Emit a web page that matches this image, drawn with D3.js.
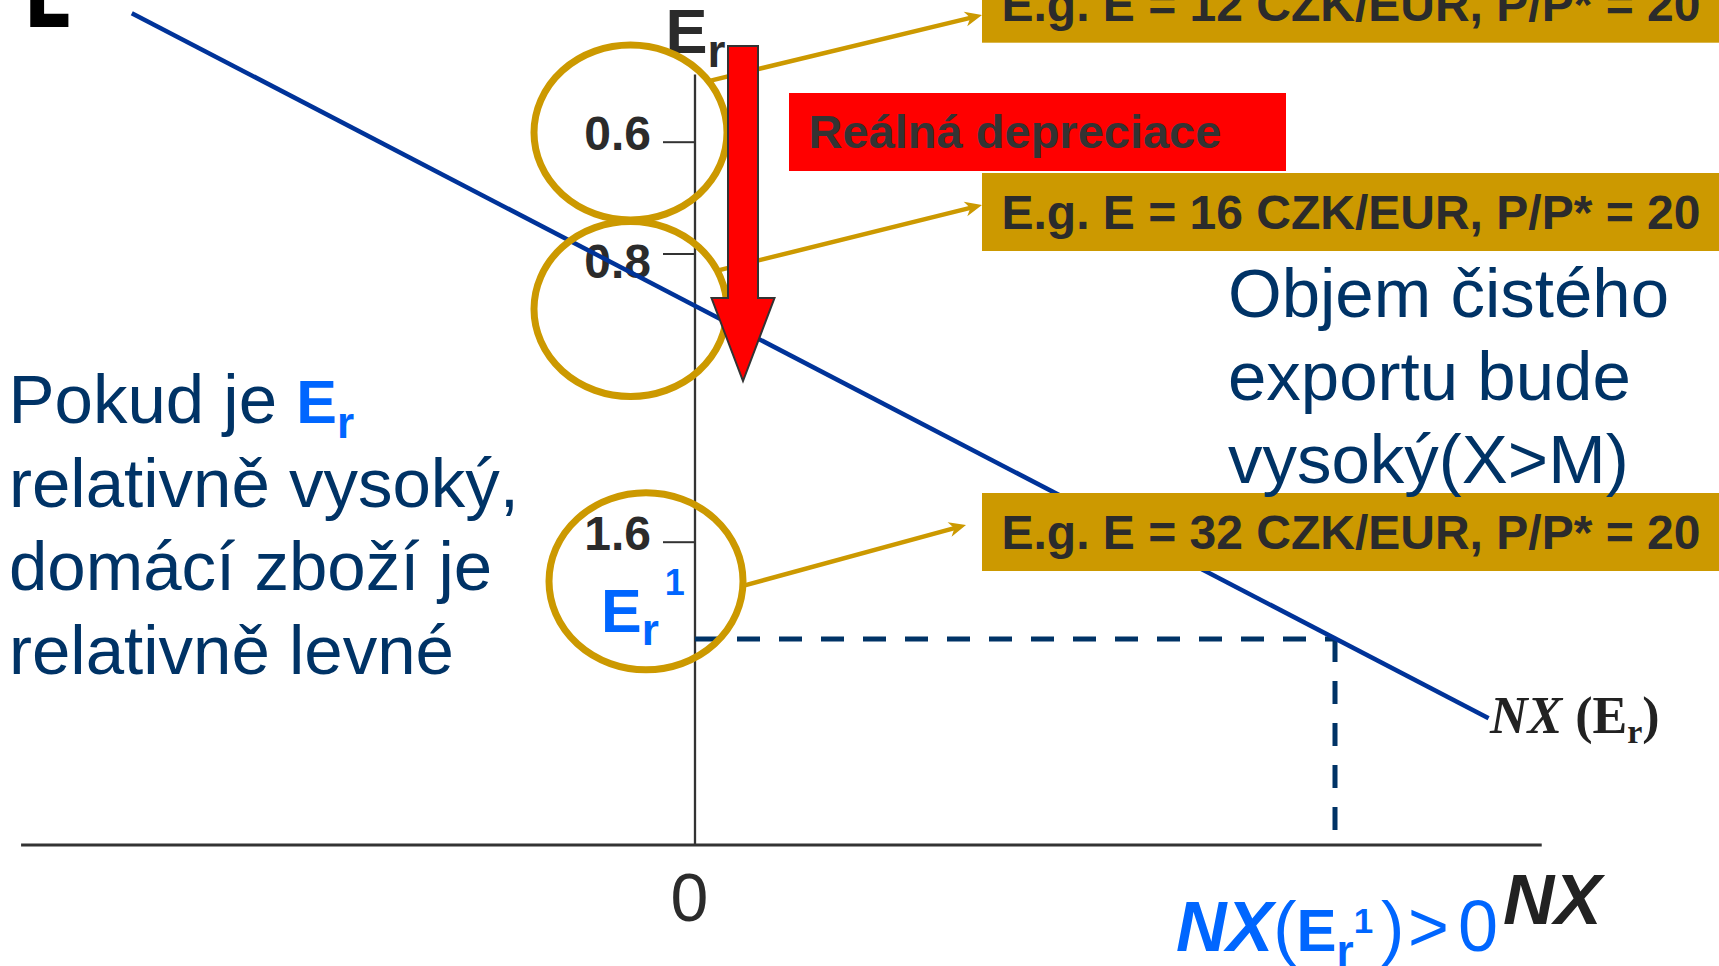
<!DOCTYPE html>
<html>
<head>
<meta charset="utf-8">
<script src="https://cdn.jsdelivr.net/npm/d3@7"></script>
<style>
  html, body { margin: 0; padding: 0; background: #fff; overflow: hidden; }
  svg { display: block; }
</style>
</head>
<body>
<svg id="chart" width="1719" height="966"></svg>
<script>
// ---- data ---------------------------------------------------------------
// Example nominal rates (CZK/EUR) and relative price levels P/P*
const nominalRates = [12, 16, 32];
const priceRatios = [20, 20, 20];
// Real exchange rate ticks on the vertical axis, E_r = E / (P/P*)
const erTicks = [0.6, 0.8, 1.6];
// Net-export schedule NX(E_r): end points (NX, E_r)
const curveNX = [-0.88, 1.24];
const curveEr = [0.37, 2.09];
// Highlighted point: E_r^1 and the net exports it yields, NX(E_r^1) > 0
const er1 = 1.87;
const nx1 = 1;
// Extent of the drawn axes
const nxAxisExtent = [-1.053, 1.323];
const erAxisTop = 0.48;

// ---- layout -------------------------------------------------------------
const W = 1719, H = 966;
const plotBottom = 845;
const navy = "#003366", lineBlue = "#003399", brightBlue = "#0066ff";
const gold = "#cc9900", red = "#ff0000", ink = "#2b2b2b";
const sans = "'Liberation Sans', Arial, sans-serif";
const serif = "'Liberation Serif', 'Times New Roman', serif";

const x = d3.scaleLinear().domain([0, 1]).range([695, 1335]);
// The E_r axis is schematic: piecewise-linear between the labelled ticks
const y = d3.scaleLinear().domain(erTicks).range([141.7, 253.5, 541.7]);

const svg = d3.select("#chart");
svg.append("rect").attr("width", W).attr("height", H).attr("fill", "#fff");

// Cut-off heading letter at the top edge
svg.append("text")
  .attr("transform", "translate(23.4,26.7) scale(0.8,1)")
  .attr("font-family", "'DejaVu Sans', sans-serif")
  .attr("font-weight", "bold")
  .attr("font-size", 92)
  .attr("fill", "#000")
  .text("E");

// ---- axes ---------------------------------------------------------------
svg.append("line")
  .attr("x1", x(nxAxisExtent[0])).attr("x2", x(nxAxisExtent[1]))
  .attr("y1", plotBottom).attr("y2", plotBottom)
  .attr("stroke", "#333").attr("stroke-width", 3);

svg.append("line")
  .attr("x1", x(0)).attr("x2", x(0))
  .attr("y1", y(erAxisTop)).attr("y2", plotBottom)
  .attr("stroke", "#333").attr("stroke-width", 2.3);

const labelDy = { "0.6": "0.17em", "0.8": "0.5em", "1.6": "0.17em" };
const yAxis = svg.append("g")
  .attr("transform", `translate(${x(0)},0)`)
  .call(d3.axisLeft(y).tickValues(erTicks).tickSize(32).tickPadding(12)
    .tickFormat(d3.format(".1f")));
yAxis.select(".domain").remove();
yAxis.selectAll(".tick line").attr("stroke", "#333").attr("stroke-width", 2);
yAxis.selectAll(".tick text")
  .attr("font-family", sans).attr("font-weight", "bold").attr("font-size", 48)
  .attr("fill", ink)
  .attr("dy", d => labelDy[d3.format(".1f")(d)]);

const xAxis = svg.append("g")
  .attr("transform", `translate(0,${plotBottom})`)
  .call(d3.axisBottom(x).tickValues([0]).tickSize(0).tickPadding(28)
    .tickFormat(d3.format("d")));
xAxis.select(".domain").remove();
xAxis.selectAll(".tick text")
  .attr("font-family", sans).attr("font-size", 68).attr("fill", ink)
  .attr("dx", -6);

// Axis titles
svg.append("text")
  .attr("x", 665.4).attr("y", 52.7)
  .attr("font-family", sans).attr("font-weight", "bold").attr("fill", ink)
  .call(t => {
    t.append("tspan").attr("font-size", 63).text("E");
    t.append("tspan").attr("font-size", 46).attr("dy", 14).text("r");
  });

svg.append("text")
  .attr("x", 1503).attr("y", 924)
  .attr("font-family", sans).attr("font-weight", "bold").attr("font-style", "italic")
  .attr("font-size", 71).attr("fill", "#222")
  .text("NX");

// ---- E_r^1 guide lines ---------------------------------------------------
const guide = svg.append("g")
  .attr("stroke", navy).attr("stroke-width", 5).attr("stroke-dasharray", "23 19")
  .attr("fill", "none");
guide.append("line")
  .attr("x1", x(0)).attr("x2", x(nx1)).attr("y1", y(er1)).attr("y2", y(er1));
guide.append("line")
  .attr("x1", x(nx1)).attr("x2", x(nx1)).attr("y1", y(er1)).attr("y2", plotBottom);

// ---- NX(E_r) schedule ----------------------------------------------------
const curve = curveNX.map((nx, i) => ({ nx, er: curveEr[i] }));
svg.append("path")
  .datum(curve)
  .attr("d", d3.line().x(d => x(d.nx)).y(d => y(d.er)))
  .attr("fill", "none").attr("stroke", lineBlue).attr("stroke-width", 4.5);

svg.append("text")
  .attr("x", 1490).attr("y", 733)
  .attr("font-family", serif).attr("font-weight", "bold").attr("font-size", 52)
  .attr("fill", "#222")
  .call(t => {
    t.append("tspan").attr("font-style", "italic").text("NX");
    t.append("tspan").text(" (E");
    t.append("tspan").attr("font-size", 34).attr("dy", 10).text("r");
    t.append("tspan").attr("dy", -10).text(")");
  });

// ---- callout rings and pointers ------------------------------------------
const rings = [
  { cx: 630.5, cy: y(0.6) - 9.2, rx: 96.5, ry: 87.5, t: -36 },
  { cx: 630.5, cy: y(0.8) + 55.5, rx: 96.5, ry: 87.5, t: -26 },
  { cx: 646, cy: y(1.6) + 39.6, rx: 97, ry: 88.5, t: 3 }
];
const boxX = 982, boxH = 78;
const boxTops = [-35.3, 173, 493];
const pointerTips = [[982, 15], [982, 205], [966, 525]];

svg.append("g").selectAll("ellipse").data(rings).join("ellipse")
  .attr("cx", d => d.cx).attr("cy", d => d.cy)
  .attr("rx", d => d.rx).attr("ry", d => d.ry)
  .attr("fill", "none").attr("stroke", gold).attr("stroke-width", 7);

rings.forEach((r, i) => {
  const a = r.t * Math.PI / 180;
  const sx = r.cx + r.rx * Math.cos(a), sy = r.cy + r.ry * Math.sin(a);
  const [tx, ty] = pointerTips[i];
  const len = Math.hypot(tx - sx, ty - sy);
  const ux = (tx - sx) / len, uy = (ty - sy) / len;
  const nx = -uy, ny = ux;
  svg.append("line")
    .attr("x1", sx).attr("y1", sy)
    .attr("x2", tx - 11 * ux).attr("y2", ty - 11 * uy)
    .attr("stroke", gold).attr("stroke-width", 4.5);
  const head = [
    [tx, ty],
    [tx - 17 * ux + 7.5 * nx, ty - 17 * uy + 7.5 * ny],
    [tx - 12 * ux, ty - 12 * uy],
    [tx - 17 * ux - 7.5 * nx, ty - 17 * uy - 7.5 * ny]
  ];
  svg.append("path").attr("d", "M" + head.join("L") + "Z").attr("fill", gold);
});

// Example boxes
const boxes = svg.append("g").selectAll("g")
  .data(nominalRates.map((e, i) => ({ e, p: priceRatios[i], top: boxTops[i] })))
  .join("g");
boxes.append("rect")
  .attr("x", boxX).attr("y", d => d.top).attr("width", W - boxX + 10).attr("height", boxH)
  .attr("fill", gold);
boxes.append("text")
  .attr("x", boxX + 19.5).attr("y", d => d.top + 56)
  .attr("font-family", sans).attr("font-weight", "bold").attr("font-size", 48)
  .attr("fill", ink)
  .text(d => `E.g. E = ${d.e} CZK/EUR, P/P* = ${d.p}`);

// Real depreciation label
svg.append("rect")
  .attr("x", 789).attr("y", 93).attr("width", 497).attr("height", 78)
  .attr("fill", red);
svg.append("text")
  .attr("x", 808.6).attr("y", 148)
  .attr("font-family", sans).attr("font-weight", "bold").attr("font-size", 47)
  .attr("fill", "#333")
  .text("Reálná depreciace");

// Downward block arrow: rising E_r
const ax = 743, shaftHalf = 15, headHalf = 31.5;
const arrowTop = 46, shoulder = 298, arrowTip = 381;
svg.append("path")
  .attr("d", [
    [ax - shaftHalf, arrowTop], [ax + shaftHalf, arrowTop],
    [ax + shaftHalf, shoulder], [ax + headHalf, shoulder],
    [ax, arrowTip],
    [ax - headHalf, shoulder], [ax - shaftHalf, shoulder]
  ].map((p, i) => (i ? "L" : "M") + p).join("") + "Z")
  .attr("fill", red).attr("stroke", "#333").attr("stroke-width", 2)
  .attr("stroke-linejoin", "miter");

// ---- explanatory text ----------------------------------------------------
const leftText = svg.append("g")
  .attr("font-family", sans).attr("font-size", 69).attr("fill", navy);
const line1 = leftText.append("text").attr("x", 8.5).attr("y", 423);
line1.append("tspan").text("Pokud je ");
line1.append("tspan").attr("font-weight", "bold").attr("font-size", 61)
  .attr("fill", brightBlue).text("E");
line1.append("tspan").attr("font-weight", "bold").attr("font-size", 44)
  .attr("fill", brightBlue).attr("dy", 15).text("r");
["relativně vysoký,", "domácí zboží je", "relativně levné"].forEach((s, i) => {
  leftText.append("text").attr("x", 9).attr("y", 506.5 + i * 83.5).text(s);
});

const rightText = svg.append("g")
  .attr("font-family", sans).attr("font-size", 69).attr("fill", navy);
["Objem čistého", "exportu bude", "vysoký(X>M)"].forEach((s, i) => {
  rightText.append("text").attr("x", 1228).attr("y", 317 + i * 83).text(s);
});

// NX(E_r^1) > 0 under the axis
const nxLabel = svg.append("text")
  .attr("x", 1176).attr("y", 951)
  .attr("font-family", sans).attr("fill", brightBlue);
nxLabel.append("tspan").attr("font-weight", "bold").attr("font-style", "italic")
  .attr("font-size", 70).text("NX");
nxLabel.append("tspan").attr("font-size", 70).text("(");
nxLabel.append("tspan").attr("font-weight", "bold").attr("font-size", 60).text("E");
nxLabel.append("tspan").attr("font-weight", "bold").attr("font-size", 44).attr("dy", 15).text("r");
nxLabel.append("tspan").attr("font-weight", "bold").attr("font-size", 35).attr("dy", -33).text("1");
nxLabel.append("tspan").attr("font-size", 70).attr("x", 1381).attr("dy", 18).text(")");
nxLabel.append("tspan").attr("font-size", 70).attr("x", 1408).text(">");
nxLabel.append("tspan").attr("font-size", 72).attr("x", 1458).text("0");

// E_r^1 label inside the lower ring
const er1Label = svg.append("text")
  .attr("x", 601).attr("y", 632)
  .attr("font-family", sans).attr("font-weight", "bold").attr("fill", brightBlue);
er1Label.append("tspan").attr("font-size", 61).text("E");
er1Label.append("tspan").attr("font-size", 44).attr("dy", 13).text("r");
er1Label.append("tspan").attr("font-size", 36).attr("dx", 6).attr("dy", -50).text("1");
</script>
</body>
</html>
